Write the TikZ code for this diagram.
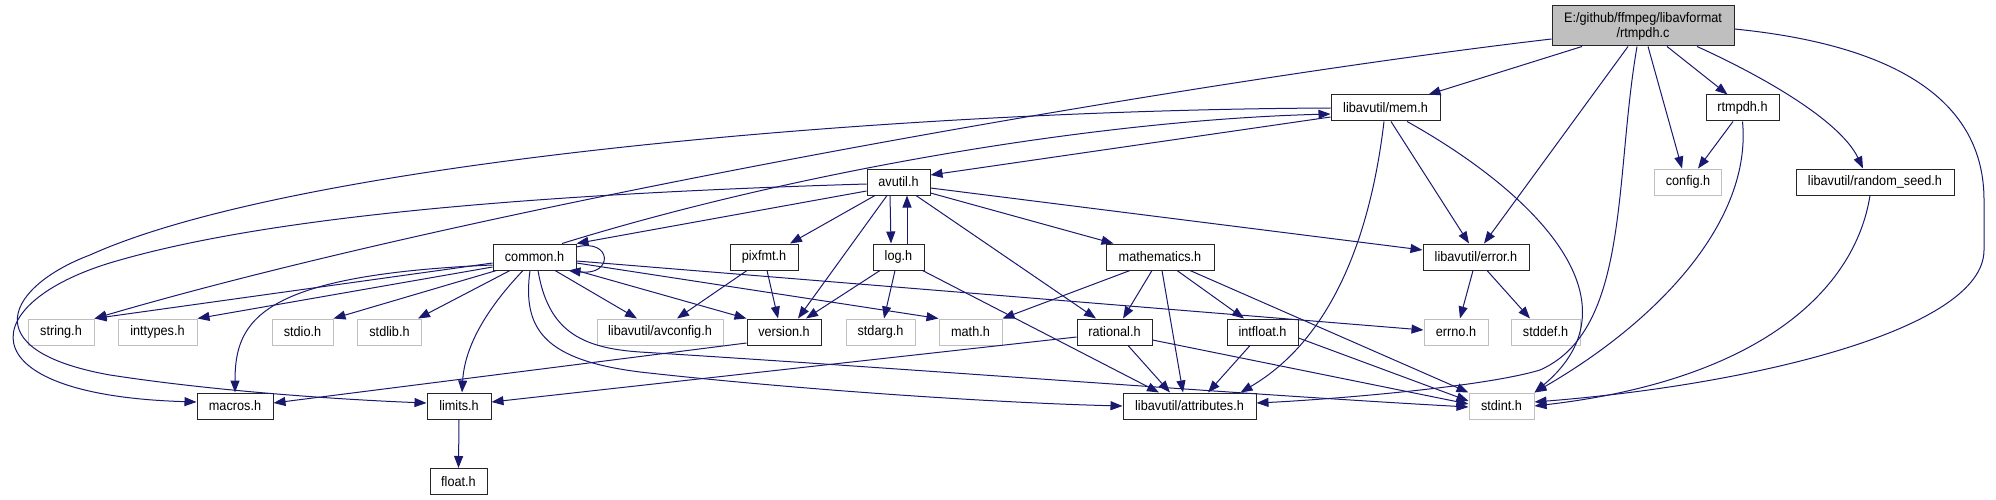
\documentclass[tikz,border=0pt]{standalone}
\usepackage{fontspec}
\usetikzlibrary{arrows.meta}
\newfontfamily\hdrfont[FakeStretch=0.92]{Liberation Sans}
\definecolor{edgeblue}{HTML}{191970}
\definecolor{sysgray}{HTML}{BFBFBF}
\tikzset{
	hdr/.style = {draw = black!85, line width = 1pt, fill = white, inner sep = 0pt, minimum height = 26pt, font = \hdrfont\fontsize{13.8pt}{15pt}\selectfont},
	syshdr/.style = {hdr, draw = sysgray},
	dep/.style = {->, draw = edgeblue, line width = 1pt}
}
\begin{document}
\begin{tikzpicture}[x = 1pt, y = -1pt, >={Triangle[length = 12pt, width = 9pt]}]
	\useasboundingbox (0,0) rectangle (1996,500);
	% files
	\node [hdr, fill = sysgray, minimum width = 182pt, minimum height = 40pt, align = center] (root) at (1643,26) {E:/github/ffmpeg/libavformat\\/rtmpdh.c};
	\node [hdr, minimum width = 109pt] (mem) at (1385.5,108) {libavutil/mem.h};
	\node [hdr, minimum width = 73pt] (rtmpdh) at (1742.5,108) {rtmpdh.h};
	\node [syshdr, minimum width = 67pt] (config) at (1688,182) {config.h};
	\node [hdr, minimum width = 158pt] (randomseed) at (1875,182) {libavutil/random\_seed.h};
	\node [hdr, minimum width = 63pt] (avutil) at (898.5,182) {avutil.h};
	\node [hdr, minimum width = 106pt] (error) at (1476,257) {libavutil/error.h};
	\node [hdr, minimum width = 83pt] (common) at (534.5,257) {common.h};
	\node [hdr, minimum width = 68pt] (pixfmt) at (764,257) {pixfmt.h};
	\node [hdr, minimum width = 51pt] (log) at (898.5,257) {log.h};
	\node [hdr, minimum width = 108pt] (mathematics) at (1160,257) {mathematics.h};
	\node [syshdr, minimum width = 66pt] (string) at (61,332) {string.h};
	\node [syshdr, minimum width = 79pt] (inttypes) at (157.5,332) {inttypes.h};
	\node [syshdr, minimum width = 61pt] (stdio) at (302.5,332) {stdio.h};
	\node [syshdr, minimum width = 64pt] (stdlib) at (389.5,332) {stdlib.h};
	\node [syshdr, minimum width = 126pt] (avconfig) at (660,332) {libavutil/avconfig.h};
	\node [hdr, minimum width = 74pt] (version) at (784,332) {version.h};
	\node [syshdr, minimum width = 69pt] (stdarg) at (880.5,332) {stdarg.h};
	\node [syshdr, minimum width = 63pt] (mathh) at (970.5,332) {math.h};
	\node [hdr, minimum width = 75pt] (rational) at (1114.5,332) {rational.h};
	\node [hdr, minimum width = 71pt] (intfloat) at (1262.5,332) {intfloat.h};
	\node [syshdr, minimum width = 64pt] (errno) at (1456,332) {errno.h};
	\node [syshdr, minimum width = 69pt] (stddef) at (1545.5,332) {stddef.h};
	\node [hdr, minimum width = 76pt] (macros) at (235,406) {macros.h};
	\node [hdr, minimum width = 64pt] (limits) at (459,406) {limits.h};
	\node [hdr, minimum width = 133pt] (attributes) at (1189.5,406) {libavutil/attributes.h};
	\node [syshdr, minimum width = 65pt] (stdint) at (1501.5,406) {stdint.h};
	\node [hdr, minimum width = 57pt] (float) at (458.5,481.5) {float.h};
	% rtmpdh.c
	\draw [dep] ([xshift = -61pt]root.south) -- ([xshift = 43pt]mem.north);
	\draw [dep] ([xshift = -15pt]root.south) -- ([xshift = 8pt]error.north);
	\draw [dep] ([xshift = -6pt]root.south) .. controls (1614,180) and (1630,330) .. (1540,370) .. controls (1480,388) and (1320,400) .. ([yshift = 3pt]attributes.east);
	\draw [dep] ([xshift = 5pt]root.south) -- ([xshift = -6pt]config.north);
	\draw [dep] ([xshift = 24pt]root.south) -- ([xshift = -15pt]rtmpdh.north);
	\draw [dep] ([xshift = 54pt]root.south) .. controls (1760,75) and (1840,120) .. ([xshift = -12pt]randomseed.north);
	\draw [dep] ([yshift = -3pt]root.east) .. controls (1895,45) and (1984,100) .. (1984,200) -- (1984,250) .. controls (1984,330) and (1750,385) .. ([yshift = 4pt]stdint.east);
	\draw [dep] ([yshift = -13pt]root.west) .. controls (1200,80) and (500,200) .. (string.north east);
	% rtmpdh.h, random_seed.h
	\draw [dep] ([xshift = -9.5pt]rtmpdh.south) -- ([xshift = 10pt]config.north);
	\draw [dep] (rtmpdh.south) .. controls (1752,220) and (1660,320) .. (stdint.north east);
	\draw [dep] ([xshift = -5pt]randomseed.south) .. controls (1855,290) and (1760,380) .. (stdint.east);
	% mem.h
	\draw [dep] ([yshift = -9pt]mem.west) -- ([yshift = 7pt]avutil.east);
	\draw [dep] ([xshift = 5.5pt]mem.south) -- ([xshift = -7pt]error.north);
	\draw [dep] ([xshift = -1.5pt]mem.south) .. controls (1370,240) and (1330,340) .. ([xshift = -16pt]attributes.north east);
	\draw [dep] ([xshift = 21.5pt]mem.south) .. controls (1530,190) and (1645,300) .. (stdint.north east);
	\draw [dep] (mem.west) .. controls (900,110) and (300,160) .. (90,255) .. controls (10,285) and (-30,350) .. (110,375) .. controls (220,392) and (350,400) .. ([yshift = 3pt]limits.west);
	% avutil.h
	\draw [dep] ([yshift = -9pt]avutil.west) -- (common.north east);
	\draw [dep] ([yshift = -2pt]avutil.west) .. controls (500,195) and (260,220) .. (120,260) .. controls (-25,300) and (-40,395) .. ([yshift = 4pt]macros.west);
	\draw [dep] ([xshift = -23.5pt]avutil.south) -- ([xshift = 26pt]pixfmt.north);
	\draw [dep] ([xshift = -8.5pt]avutil.south) -- ([xshift = -7.5pt]log.north);
	\draw [dep] ([xshift = 8.5pt]log.north) -- ([xshift = 8.5pt]avutil.south);
	\draw [dep] ([xshift = -11.5pt]avutil.south) -- ([xshift = 14pt]version.north);
	\draw [dep] ([xshift = 17.5pt]avutil.south) -- ([xshift = -18.5pt]rational.north);
	\draw [dep] ([yshift = -11pt]avutil.east) -- ([xshift = 8pt]mathematics.north west);
	\draw [dep] ([yshift = -6pt]avutil.east) -- ([yshift = 7pt]error.west);
	% log.h, pixfmt.h
	\draw [dep] ([xshift = -18.5pt]log.south) -- ([xshift = 22pt]version.north);
	\draw [dep] ([xshift = -3.5pt]log.south) -- ([xshift = 3.5pt]stdarg.north);
	\draw [dep] ([xshift = -2pt]log.south east) -- ([xshift = -30.5pt]attributes.north);
	\draw [dep] ([xshift = -17pt]pixfmt.south) -- ([xshift = 17pt]avconfig.north);
	\draw [dep] ([xshift = 3pt]pixfmt.south) -- ([xshift = -6pt]version.north);
	% mathematics.h
	\draw [dep] ([xshift = -30pt]mathematics.south) -- (mathh.north east);
	\draw [dep] ([xshift = -8pt]mathematics.south) -- ([xshift = 8.5pt]rational.north);
	\draw [dep] ([xshift = 2pt]mathematics.south) -- ([xshift = -6.5pt]attributes.north);
	\draw [dep] ([xshift = 17pt]mathematics.south) -- ([xshift = -18.5pt]intfloat.north);
	\draw [dep] ([xshift = 30pt]mathematics.south) -- (stdint.north west);
	% error.h
	\draw [dep] ([xshift = -3pt]error.south) -- ([xshift = 4pt]errno.north);
	\draw [dep] ([xshift = 11pt]error.south) -- ([xshift = -15.5pt]stddef.north);
	% common.h
	\draw [dep] ([xshift = 27.5pt]common.north) .. controls (800,170) and (1100,120) .. ([yshift = -6pt]mem.west);
	\draw [dep] ([yshift = 10pt]common.east) .. controls (612,238) and (614,276) .. ([xshift = -8pt]common.south east);
	\draw [dep] ([yshift = -6pt]common.west) -- (string.north east);
	\draw [dep] ([yshift = -10pt]common.west) -- (inttypes.north east);
	\draw [dep] ([xshift = 4pt]common.south west) -- (stdio.north east);
	\draw [dep] ([xshift = -24.5pt]common.south) -- ([xshift = -4pt]stdlib.north east);
	\draw [dep] ([yshift = -8pt]common.west) .. controls (260,275) and (235,320) .. (macros.north);
	\draw [dep] ([xshift = -11.5pt]common.south) .. controls (495,300) and (465,340) .. ([xshift = 3pt]limits.north);
	\draw [dep] ([xshift = 20.5pt]common.south) -- ([xshift = -23pt]avconfig.north);
	\draw [dep] (common.south east) -- (version.north west);
	\draw [dep] ([yshift = -6pt]common.east) -- (mathh.north west);
	\draw [dep] ([yshift = -4pt]common.east) -- ([yshift = 2pt]errno.west);
	\draw [dep] ([xshift = -4.5pt]common.south) .. controls (522,330) and (545,360) .. (640,372) .. controls (800,390) and (1000,403) .. (attributes.west);
	\draw [dep] ([xshift = 3.5pt]common.south) .. controls (548,330) and (580,348) .. (640,352) .. controls (900,368) and (1250,395) .. ([yshift = -1pt]stdint.west);
	% the rest
	\draw [dep] ([yshift = -11pt]version.west) -- ([yshift = 3pt]macros.east);
	\draw [dep] ([yshift = -5pt]rational.west) -- ([yshift = 4pt]limits.east);
	\draw [dep] ([xshift = 13.5pt]rational.south) -- ([xshift = -19.5pt]attributes.north);
	\draw [dep] ([yshift = -8pt]rational.east) -- ([yshift = 2pt]stdint.west);
	\draw [dep] ([xshift = -12.5pt]intfloat.south) -- ([xshift = 18.5pt]attributes.north);
	\draw [dep] ([yshift = -6pt]intfloat.east) -- ([yshift = 5pt]stdint.west);
	\draw [dep] (limits.south) -- (float.north);
\end{tikzpicture}
\end{document}
